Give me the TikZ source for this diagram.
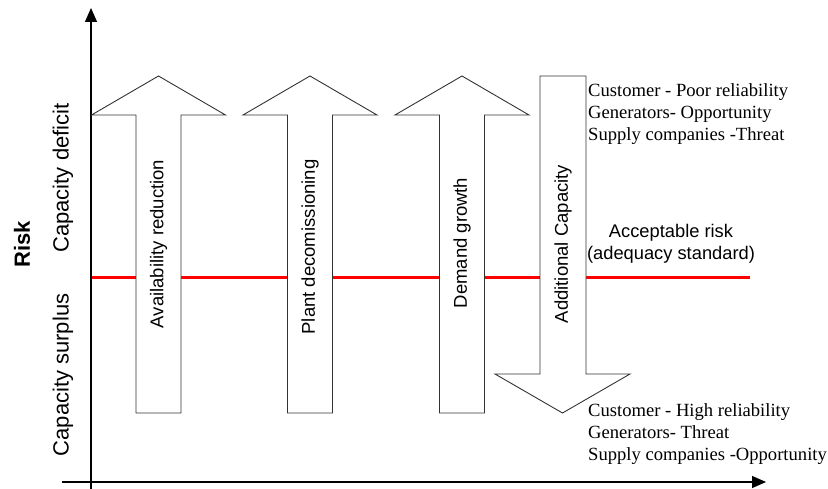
\documentclass[tikz,border=0pt]{standalone}
\usepackage{fontspec}
\setmainfont{Liberation Serif}
\setsansfont{Liberation Sans}
\usetikzlibrary{arrows.meta}

\begin{document}
\begin{tikzpicture}[x=1pt,y=-1pt,
  axis/.style={line width=1.3pt, -{Triangle[length=14pt,width=12pt]}},
  blockarrow/.style={draw=black!80, fill=white, line width=0.9pt},
  standard/.style={red, line width=3pt},
  arrowlabel/.style={font=\sffamily\fontsize{18.5}{22}\selectfont, rotate=90, inner sep=0pt},
  sidelabel/.style={font=\sffamily\fontsize{22}{26}\selectfont, rotate=90, inner sep=0pt},
  noteline/.style={font=\fontsize{18.6}{22}\selectfont, anchor=base west, inner sep=0pt},
  risklabel/.style={font=\sffamily\fontsize{18.3}{22}\selectfont, align=center, inner sep=0pt}]
\useasboundingbox (0,0) rectangle (828,489);

% axes
\coordinate (ybot) at (91,489);
\coordinate (ytop) at (91,8);
\coordinate (xleft) at (62,482);
\coordinate (xright) at (766,482);

% acceptable risk level
\coordinate (stdL) at (91,278);
\coordinate (stdR) at (750,278);
\draw[standard] (stdL) -- (stdR);

\draw[axis] (ybot) -- (ytop);
\draw[axis] (xleft) -- (xright);

% upward block arrows: shaft half width 22.5, head half width 67
\foreach \cx/\nm in {158.5/avail, 310/plant, 462/demand}{
  \draw[blockarrow] (\cx-22.5,413) -- (\cx-22.5,115) -- (\cx-67,115) -- (\cx,76)
    -- (\cx+67,115) -- (\cx+22.5,115) -- (\cx+22.5,413) -- cycle;
}
% downward block arrow
\draw[blockarrow] (540,76) -- (586,76) -- (586,374) -- (630,374) -- (562.5,413)
  -- (495,374) -- (540,374) -- cycle;

% arrow labels
\node[arrowlabel] (availT) at (158.5,244) {Availability reduction};
\node[arrowlabel] (plantT) at (310,247) {Plant decomissioning};
\node[arrowlabel] (demandT) at (462,243) {Demand growth};
\node[arrowlabel] (addT) at (563,244) {Additional Capacity};

% vertical axis labels
\node[sidelabel, font=\sffamily\bfseries\fontsize{22}{26}\selectfont] (risk) at (22,244) {Risk};
\node[sidelabel] (deficit) at (63,178) {Capacity deficit};
\node[sidelabel] (surplus) at (63,375) {Capacity surplus};

% acceptable risk text
\node[risklabel] (accept) at (671,244) {Acceptable risk\\(adequacy standard)};

% stakeholder notes, deficit side
\node[noteline] (d1) at (588,97) {Customer - Poor reliability};
\node[noteline] (d2) at (588,119) {Generators- Opportunity};
\node[noteline] (d3) at (588,141) {Supply companies -Threat};

% stakeholder notes, surplus side
\node[noteline] (s1) at (588,416) {Customer - High reliability};
\node[noteline] (s2) at (588,438) {Generators- Threat};
\node[noteline] (s3) at (588,460) {Supply companies -Opportunity};
\end{tikzpicture}
\end{document}
